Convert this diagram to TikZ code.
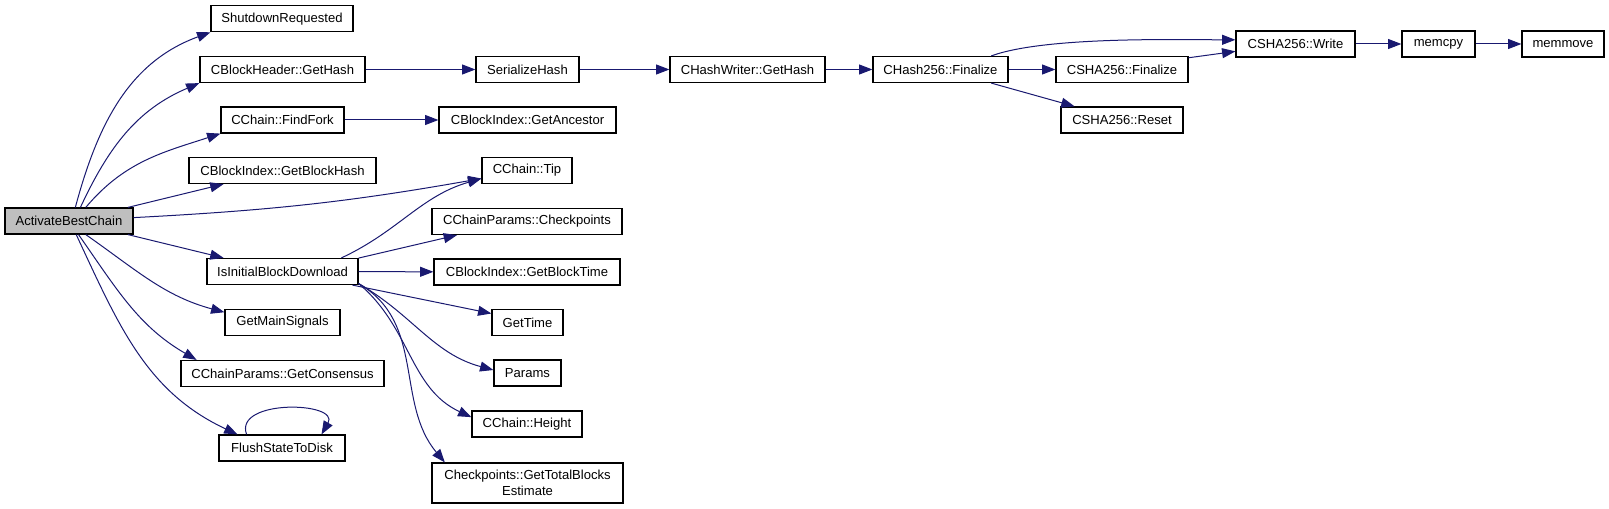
\documentclass[tikz,border=0pt]{standalone}
\usepackage{fontspec}
\setmainfont{Liberation Sans}
\usetikzlibrary{arrows.meta}
\definecolor{callblue}{HTML}{191970}

\begin{document}
\begin{tikzpicture}[x=0.75pt,y=0.75pt,
  fn/.style={draw=black,line width=0.9pt,fill=white,inner sep=0pt,
    minimum height=19.5pt,font=\fontsize{9.8}{11.6}\selectfont},
  boxw/.style={minimum width=#1*0.75pt},
  call/.style={draw=callblue,line width=0.75pt,-{Triangle[length=10pt,width=7.5pt]}}]
\useasboundingbox (0,0) rectangle (1609,-509);
% caller
\node[fn,boxw=128,fill=gray!50] (abc) at (69,-221) {ActivateBestChain};
% first level
\node[fn,boxw=142] (shut) at (282,-18.7) {ShutdownRequested};
\node[fn,boxw=165] (hdr) at (282.5,-69.5) {CBlockHeader::GetHash};
\node[fn,boxw=123] (fork) at (282.5,-120) {CChain::FindFork};
\node[fn,boxw=187] (bhash) at (282.5,-170.5) {CBlockIndex::GetBlockHash};
\node[fn,boxw=151] (ibd) at (282.5,-271.5) {IsInitialBlockDownload};
\node[fn,boxw=115] (sig) at (282.5,-322.5) {GetMainSignals};
\node[fn,boxw=203] (cons) at (282.5,-373.5) {CChainParams::GetConsensus};
\node[fn,boxw=126] (flush) at (282,-448) {FlushStateToDisk};
% second level
\node[fn,boxw=103] (ser) at (527.5,-69.5) {SerializeHash};
\node[fn,boxw=177] (anc) at (527.5,-120) {CBlockIndex::GetAncestor};
\node[fn,boxw=90] (tip) at (527,-170.5) {CChain::Tip};
\node[fn,boxw=190] (ckp) at (527,-221.5) {CChainParams::Checkpoints};
\node[fn,boxw=186] (btime) at (527,-272) {CBlockIndex::GetBlockTime};
\node[fn,boxw=71] (gtime) at (527.5,-322.5) {GetTime};
\node[fn,boxw=67] (par) at (527.5,-373) {Params};
\node[fn,boxw=110] (hgt) at (527,-424) {CChain::Height};
\node[fn,boxw=191,minimum height=30pt,align=center] (tot) at (527.5,-483)
  {Checkpoints::GetTotalBlocks\\Estimate};
% hash chain
\node[fn,boxw=155] (hw) at (747.5,-69.5) {CHashWriter::GetHash};
\node[fn,boxw=135] (h256) at (940.5,-69.5) {CHash256::Finalize};
\node[fn,boxw=132] (sfin) at (1122,-69.5) {CSHA256::Finalize};
\node[fn,boxw=122] (rst) at (1122,-120) {CSHA256::Reset};
\node[fn,boxw=119] (wr) at (1295.5,-44) {CSHA256::Write};
\node[fn,boxw=73] (mcp) at (1438.5,-44) {memcpy};
\node[fn,boxw=82] (mmv) at (1563,-44) {memmove};

\draw[call] (abc.65) to[out=75,in=200] (shut.south west);
\draw[call] (abc.50) to[out=65,in=203] (hdr.south west);
\draw[call] (abc.39) to[out=50,in=198] (fork.south west);
\draw[call] (abc.13.5) -- (bhash.193);
\draw[call] (abc.3.6) to[out=3,in=190] (tip.190);
\draw[call] (abc.-13.5) -- (ibd.167);
\draw[call] (abc.-39) to[out=-35,in=165] (sig.170);
\draw[call] (abc.-55) to[out=-55,in=150] (cons.171);
\draw[call] (abc.-62) to[out=-65,in=155] (flush.163);
\draw[call] (flush.159) to[out=110,in=60,looseness=1.3] (flush.19);

\draw[call] (hdr) -- (ser);
\draw[call] (ser) -- (hw);
\draw[call] (hw) -- (h256);
\draw[call] (h256) -- (sfin);
\draw[call] (h256.-15) -- (rst.164);
\draw[call] (h256.15) to[out=20,in=180,looseness=0.6] (wr.176);
\draw[call] (sfin.10) -- (wr.187);
\draw[call] (wr) -- (mcp);
\draw[call] (mcp) -- (mmv);
\draw[call] (fork) -- (anc);

\draw[call] (ibd.13) to[out=25,in=196] (tip.190);
\draw[call] (ibd.10) -- (ckp.191);
\draw[call] (ibd) -- (btime);
\draw[call] (ibd.-11) -- (gtime.166);
\draw[call] (ibd.-9) to[out=-30,in=165] (par.175);
\draw[call] (ibd.-9) to[out=-40,in=155] (hgt.173);
\draw[call] (ibd.-9) to[out=-30,in=130] (tot.166);
\end{tikzpicture}
\end{document}
